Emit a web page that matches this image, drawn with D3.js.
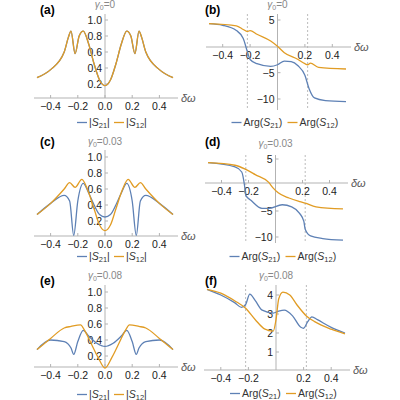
<!DOCTYPE html><html><head><meta charset="utf-8"><script src="https://cdn.jsdelivr.net/npm/d3@7"></script>
<style>body{margin:0;background:#fff}text{font-family:"Liberation Sans",Arial,sans-serif}</style></head><body>
<svg id="c" width="400" height="400"></svg>
<script>
// ---- data ----
const aX=[-0.5,-0.4,-0.3,-0.27,-0.25,-0.22,-0.19,-0.16,-0.12,-0.08,-0.04,0,0.04,0.08,0.12,0.16,0.19,0.22,0.25,0.27,0.3,0.4,0.5];
const aS12=[0.28,0.38,0.6,0.78,0.86,0.58,0.8,0.86,0.7,0.45,0.25,0.18,0.25,0.45,0.7,0.86,0.8,0.58,0.86,0.78,0.6,0.38,0.28];
const aS21=aS12.slice();
const bX21=[-0.5,-0.4,-0.3,-0.25,-0.22,-0.2,-0.15,-0.05,0,0.05,0.1,0.15,0.2,0.23,0.27,0.35,0.5];
const bS21=[4.3,4.0,3.0,1.5,-1,-2.5,-3.3,-3.8,-3.5,-2.8,-2.9,-3.7,-5.5,-8,-9.8,-10.3,-10.5];
const bX12=[-0.5,-0.3,-0.25,-0.22,-0.2,-0.15,-0.05,0,0.05,0.15,0.2,0.22,0.24,0.3,0.5];
const bS12=[4.3,3.9,3.2,2.8,3.0,2.3,1.0,0,-1.2,-2.5,-3.3,-3.5,-3.2,-4.0,-4.3];
const cX21=[-0.5,-0.4,-0.3,-0.26,-0.23,-0.2,-0.16,-0.12,-0.08,-0.04,0,0.04,0.08,0.12,0.16,0.2,0.23,0.26,0.3,0.4,0.5];
const cS21=[0.28,0.42,0.52,0.45,0.02,0.45,0.67,0.55,0.4,0.28,0.25,0.28,0.4,0.55,0.67,0.45,0.02,0.45,0.52,0.42,0.28];
const cX12=[-0.5,-0.4,-0.3,-0.26,-0.22,-0.17,-0.13,-0.08,-0.04,0,0.04,0.08,0.13,0.17,0.22,0.26,0.3,0.4,0.5];
const cS12=[0.28,0.42,0.6,0.68,0.62,0.72,0.6,0.35,0.15,0.08,0.15,0.35,0.6,0.72,0.62,0.68,0.6,0.42,0.28];
const dX21=[-0.5,-0.3,-0.25,-0.23,-0.22,-0.18,-0.1,-0.05,0.05,0.12,0.18,0.21,0.22,0.26,0.35,0.5];
const dS21=[4.3,3.5,2.5,0,-2,-3,-4.5,-4.5,-3.8,-4.2,-5.5,-7,-8.5,-9.8,-10.3,-10.6];
const dX12=[-0.5,-0.3,-0.22,-0.15,-0.05,-0.02,0.02,0.1,0.18,0.22,0.3,0.5];
const dS12=[4.3,3.8,3.0,2.0,0.5,-0.5,-1.5,-2.5,-3.2,-3.5,-4.2,-4.6];
const eX21=[-0.5,-0.4,-0.3,-0.25,-0.23,-0.2,-0.16,-0.12,-0.06,0,0.06,0.12,0.16,0.2,0.23,0.25,0.3,0.4,0.5];
const eS21=[0.28,0.4,0.38,0.3,0.22,0.38,0.52,0.45,0.36,0.32,0.36,0.45,0.52,0.38,0.22,0.3,0.38,0.4,0.28];
const eX12=[-0.5,-0.4,-0.3,-0.25,-0.18,-0.15,-0.1,-0.05,0,0.05,0.1,0.15,0.18,0.25,0.3,0.4,0.5];
const eS12=[0.28,0.42,0.55,0.57,0.59,0.52,0.35,0.18,0.05,0.18,0.35,0.52,0.59,0.57,0.55,0.42,0.28];
const fX21=[-0.5,-0.4,-0.3,-0.25,-0.22,-0.19,-0.15,-0.1,-0.02,0.02,0.06,0.12,0.18,0.2,0.23,0.26,0.3,0.4,0.5];
const fS21=[4.3,4.0,3.6,3.35,3.5,4.05,3.7,3.2,3.05,3.15,3.2,2.9,2.3,2.25,2.6,2.85,2.7,2.3,2.0];
const fX12=[-0.5,-0.4,-0.3,-0.22,-0.15,-0.08,-0.02,0,0.02,0.05,0.1,0.15,0.22,0.28,0.4,0.5];
const fS12=[4.3,4.1,3.7,3.3,2.7,2.2,2.1,2.7,3.8,4.15,4.0,3.5,2.9,2.6,2.2,1.95];
const magXTicks=[-0.4,-0.2,0,0.2,0.4], argXTicks=[-0.4,-0.2,0.2,0.4];
const magYTicks=[0.2,0.4,0.6,0.8,1.0];
const gammas=["0","0.03","0.08"], labels=["(a)","(b)","(c)","(d)","(e)","(f)"];
// ---- drawing ----
const BLUE="#5E81B5",ORANGE="#E19C24";
const svg=d3.select("#c");
const neg=d=>d<0?"\u2212"+(-d):d;
const panels=[
 {lab:0,g:0,mag:true,x0:37,x1:173,yd:[0,1],yr:[100,20],ax:98,ticks:magYTicks,fmt:d3.format(".1f"),s:[[aX,aS21],[aX,aS12]],top:14,leg:126,gy:8},
 {lab:1,g:0,mag:false,x0:209,x1:346,yd:[-10,5],yr:[99,20],ax:47,ticks:[5,-5,-10],fmt:neg,s:[[bX21,bS21],[bX12,bS12]],top:14,bot:110,leg:126,gy:8},
 {lab:2,g:1,mag:true,x0:37,x1:173,yd:[0,1],yr:[237,157],ax:236,ticks:magYTicks,fmt:d3.format(".1f"),s:[[cX21,cS21],[cX12,cS12]],top:150,leg:260,gy:145},
 {lab:3,g:1,mag:false,x0:208,x1:343,yd:[-10,5],yr:[237,159],ax:183,ticks:[5,-5,-10],fmt:neg,s:[[dX21,dS21],[dX12,dS12]],top:155,bot:243,leg:260,gy:147},
 {lab:4,g:2,mag:true,x0:37,x1:173,yd:[0,1],yr:[372,292],ax:367,ticks:magYTicks,fmt:d3.format(".1f"),s:[[eX21,eS21],[eX12,eS12]],top:285,leg:398,gy:279},
 {lab:5,g:2,mag:false,x0:207,x1:345,yd:[0,4],yr:[371,295],ax:370,ticks:[1,2,3,4],fmt:d=>d,s:[[fX21,fS21],[fX12,fS12]],top:285,bot:370,leg:397,gy:279}
];
const labPos=[[40,14],[205,14],[40,146],[205,146],[40,285],[205,285]];
panels.forEach(p=>{
 const x=d3.scaleLinear().domain([-0.5,0.5]).range([p.x0,p.x1]);
 const y=d3.scaleLinear().domain(p.yd).range(p.yr);
 const g=svg.append("g");
 const x0=x(0);
 if(!p.mag)[-0.22,0.22].forEach(v=>g.append("line").attr("x1",x(v)).attr("x2",x(v)).attr("y1",p.top).attr("y2",p.bot).attr("stroke","#bbb").attr("stroke-dasharray","2,2").attr("stroke-width",1));
 g.append("line").attr("x1",p.x0-3).attr("x2",p.x1+5).attr("y1",p.ax).attr("y2",p.ax).attr("stroke","#b3b3b3");
 g.append("line").attr("x1",x0).attr("x2",x0).attr("y1",p.top).attr("y2",p.mag?p.ax:p.bot).attr("stroke","#b3b3b3");
 (p.mag?magXTicks:argXTicks).forEach(t=>{
  g.append("line").attr("x1",x(t)).attr("x2",x(t)).attr("y1",p.ax).attr("y2",p.ax-3).attr("stroke","#b3b3b3");
  g.append("text").attr("x",x(t)).attr("y",p.ax+12).attr("text-anchor","middle").attr("font-size",10.5).attr("fill","#222").text((t<0?"\u2212":"")+d3.format(".1f")(Math.abs(t)));
 });
 p.ticks.forEach(t=>{
  g.append("line").attr("x1",x0).attr("x2",x0+3).attr("y1",y(t)).attr("y2",y(t)).attr("stroke","#b3b3b3");
  g.append("text").attr("x",x0-3).attr("y",y(t)+4).attr("text-anchor","end").attr("font-size",10.5).attr("fill","#222").text(p.fmt(t));
 });
 g.append("text").attr("x",p.x1+8).attr("y",p.ax+4).attr("font-size",11).attr("font-style","italic").attr("fill","#555").text("\u03b4\u03c9");
 const gt=g.append("text").attr("x",x0).attr("y",p.gy).attr("text-anchor","middle").attr("font-size",10).attr("fill","#888");
 gt.append("tspan").attr("font-style","italic").text("\u03b3");gt.append("tspan").attr("font-size",7).attr("dy",2).text("0");gt.append("tspan").attr("dy",-2).text("="+gammas[p.g]);
 g.append("text").attr("x",labPos[p.lab][0]).attr("y",labPos[p.lab][1]).attr("font-size",12).attr("font-weight","bold").text(labels[p.lab]);
 const line=d3.line().curve(d3.curveMonotoneX);
 [BLUE,ORANGE].forEach((c,i)=>{
  const [xs,ys]=p.s[i];
  g.append("path").attr("d",line(xs.map((v,k)=>[x(v),y(ys[k])]))).attr("fill","none").attr("stroke",c).attr("stroke-width",1.3);
 });
 const lg=g.append("g");
 let cx=p.mag?x0-28:x0-46;
 ["21","12"].forEach((s,i)=>{
  lg.append("line").attr("x1",cx).attr("x2",cx+10).attr("y1",p.leg-3.5).attr("y2",p.leg-3.5).attr("stroke",i?ORANGE:BLUE).attr("stroke-width",1.3);
  const t=lg.append("text").attr("x",cx+12).attr("y",p.leg).attr("font-size",10.5).attr("fill","#333");
  if(p.mag){t.append("tspan").text("|");t.append("tspan").attr("font-style","italic").text("S");t.append("tspan").attr("font-size",7.5).attr("dy",2).text(s);t.append("tspan").attr("dy",-2).text("|");}
  else{t.append("tspan").text("Arg(");t.append("tspan").attr("font-style","italic").text("S");t.append("tspan").attr("font-size",7.5).attr("dy",2).text(s);t.append("tspan").attr("dy",-2).text(")");}
  cx+=p.mag?37:56;
 });
});
</script></body></html>
